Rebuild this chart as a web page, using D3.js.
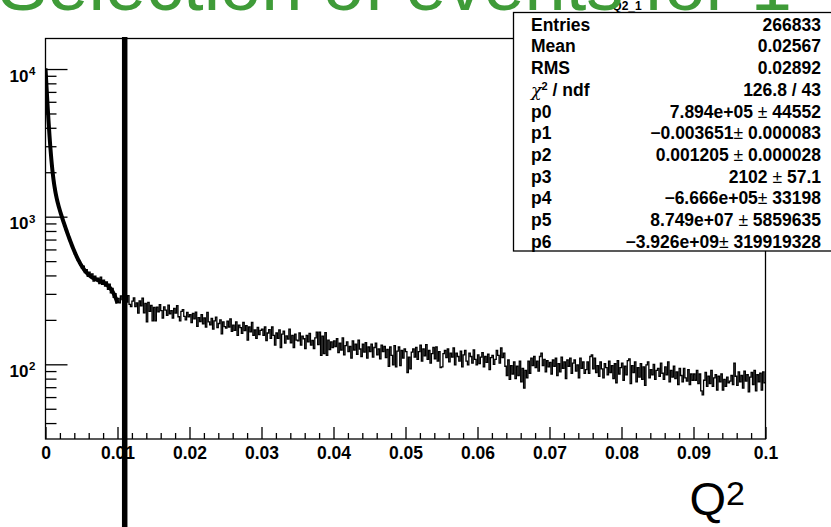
<!DOCTYPE html>
<html>
<head>
<meta charset="utf-8">
<script src="https://cdn.jsdelivr.net/npm/d3@7"></script>
<style>
  html, body { margin: 0; padding: 0; background: #fff; overflow: hidden; }
  svg { display: block; }
  text { font-family: "Liberation Sans", Arial, Helvetica, sans-serif; }
</style>
</head>
<body>
<svg id="chart" width="831" height="527"></svg>
<script>
// ---- histogram: Q2 distribution, 500 bins on [0, 0.1] ----
const q2Range = [0, 0.1];
const counts = [
  8960, 5530, 3910, 2810, 2215, 1790, 1562, 1363, 1238, 1151, 1049, 995, 917, 872, 806, 763, 709, 680, 628, 606, 561, 548, 509, 499, 468,
  447, 462, 418, 437, 394, 421, 389, 409, 366, 395, 371, 384, 352, 389, 348, 372, 339, 361, 322, 349, 305, 327, 284, 301, 262,
  280, 261, 291, 274, 246, 283, 264, 292, 255, 246, 268, 282, 246, 261, 222, 269, 249, 281, 223, 259, 194, 263, 228, 251, 197,
  243, 197, 244, 227, 254, 231, 206, 245, 233, 215, 252, 220, 231, 206, 239, 222, 250, 210, 197, 228, 235, 211, 200, 225, 210,
  217, 192, 221, 203, 226, 181, 207, 195, 217, 188, 206, 179, 225, 194, 185, 205, 173, 197, 209, 177, 189, 200, 161, 194, 180,
  176, 196, 179, 203, 167, 184, 170, 194, 157, 184, 177, 162, 192, 169, 183, 146, 179, 166, 192, 157, 171, 150, 178, 159, 170,
  173, 157, 179, 145, 163, 172, 150, 179, 157, 135, 163, 150, 171, 130, 160, 168, 139, 156, 148, 173, 140, 157, 130, 160, 146,
  144, 163, 135, 155, 149, 128, 157, 142, 162, 135, 145, 128, 151, 165, 136, 165, 115, 155, 118, 164, 115, 146, 126, 142, 130,
  144, 132, 149, 120, 139, 125, 151, 116, 134, 142, 122, 132, 110, 144, 125, 137, 117, 146, 127, 113, 137, 121, 140, 110, 131,
  122, 137, 112, 130, 139, 116, 127, 109, 135, 122, 132, 111, 126, 97, 131, 115, 99, 134, 96, 123, 131, 98, 124, 110, 127,
  122, 88, 112, 93, 121, 127, 112, 130, 108, 122, 135, 105, 127, 114, 136, 108, 124, 102, 118, 130, 109, 131, 105, 122, 95,
  96, 118, 124, 111, 127, 104, 119, 112, 129, 99, 119, 113, 105, 123, 96, 116, 124, 105, 99, 119, 113, 102, 125, 108, 99,
  116, 101, 112, 120, 96, 113, 103, 117, 92, 111, 115, 100, 108, 124, 115, 102, 129, 111, 119, 97, 84, 107, 79, 98, 86,
  104, 80, 97, 84, 105, 76, 94, 69, 91, 81, 105, 87, 110, 98, 113, 95, 105, 90, 113, 119, 98, 108, 89, 106, 96,
  103, 86, 107, 97, 110, 84, 101, 89, 112, 94, 104, 80, 107, 97, 110, 87, 102, 107, 90, 99, 81, 110, 94, 104, 87,
  92, 104, 87, 113, 116, 93, 110, 88, 98, 83, 104, 93, 81, 101, 95, 85, 105, 88, 98, 80, 101, 75, 106, 86, 95,
  102, 78, 97, 85, 106, 109, 74, 98, 88, 104, 76, 95, 82, 101, 79, 96, 72, 99, 104, 81, 92, 85, 100, 79, 91,
  94, 83, 102, 87, 79, 96, 85, 104, 76, 91, 82, 97, 80, 89, 73, 94, 84, 76, 94, 81, 77, 92, 73, 86, 78,
  86, 78, 91, 74, 86, 66, 62, 78, 88, 71, 83, 74, 91, 71, 81, 85, 67, 83, 76, 86, 67, 79, 71, 82, 75,
  77, 84, 73, 102, 83, 72, 89, 76, 84, 69, 90, 77, 85, 65, 82, 88, 73, 91, 66, 85, 76, 87, 67, 89, 75
];

// ---- axes ----
const yRange = [31.2, 16100];
const xMajorTicks = [0, 0.01, 0.02, 0.03, 0.04, 0.05, 0.06, 0.07, 0.08, 0.09, 0.1];
const xTickLabels = ["0", "0.01", "0.02", "0.03", "0.04", "0.05", "0.06", "0.07", "0.08", "0.09", "0.1"];
const yDecadeExponents = [2, 3, 4];

// ---- fit: gaus(p0,p1,p2) + pol3(p3..p6) on [0, 0.01] ----
const fitParams = [7.894e+05, -0.003651, 0.001205, 2102, -6.666e+05, 8.749e+07, -3.926e+09];
const fitRange = [0, 0.01];

// ---- selection cut ----
const cutQ2 = 0.011;

// ---- statistics box ----
const statLabels = ["Entries", "Mean", "RMS", "CHI2", "p0", "p1", "p2", "p3", "p4", "p5", "p6"];
const statValues = ["266833", "0.02567", "0.02892", "126.8 / 43",
  "7.894e+05 ", "\u22120.003651", "0.001205 ", "2102 ", "\u22126.666e+05", "8.749e+07 ", "\u22123.926e+09"];
const statErrors = ["", "", "", "", "44552", "0.000083", "0.000028", "57.1", "33198", "5859635", "319919328"];

const titleText = "Selection of events for 1";
const statTitle = "Q2_1";

// ------------------------------------------------------------------
const svg = d3.select("#chart");
const W = 831, H = 527;
const plot = { left: 45.5, right: 765.5, top: 38.5, bottom: 439 };

const x = d3.scaleLinear().domain(q2Range).range([plot.left, plot.right]);
const y = d3.scaleLog().domain(yRange).range([plot.bottom, plot.top]);

svg.append("rect").attr("width", W).attr("height", H).attr("fill", "#fff");

svg.append("clipPath").attr("id", "plotClip")
  .append("rect")
  .attr("x", plot.left).attr("y", plot.top)
  .attr("width", plot.right - plot.left).attr("height", plot.bottom - plot.top);

// histogram as a step outline
const binW = (q2Range[1] - q2Range[0]) / counts.length;
const steps = counts.map((c, i) => [q2Range[0] + i * binW, c]);
steps.push([q2Range[1], counts[counts.length - 1]]);
const stepLine = d3.line().x(d => x(d[0])).y(d => y(d[1])).curve(d3.curveStepAfter);

const plotG = svg.append("g").attr("clip-path", "url(#plotClip)");
plotG.append("path")
  .datum(steps)
  .attr("d", stepLine)
  .attr("fill", "none")
  .attr("stroke", "#000")
  .attr("stroke-width", 1.3)
  .attr("stroke-linejoin", "miter");

// fitted function
function fitFn(q) {
  const [p0, p1, p2, p3, p4, p5, p6] = fitParams;
  const z = (q - p1) / p2;
  return p0 * Math.exp(-0.5 * z * z) + p3 + p4 * q + p5 * q * q + p6 * q * q * q;
}
const fitPts = d3.range(0, 201).map(k => {
  const q = fitRange[0] + (fitRange[1] - fitRange[0]) * k / 200;
  return [q, fitFn(q)];
});
plotG.append("path")
  .datum(fitPts)
  .attr("d", d3.line().x(d => x(d[0])).y(d => y(d[1])))
  .attr("fill", "none")
  .attr("stroke", "#000")
  .attr("stroke-width", 4)
  .attr("stroke-linejoin", "round");

// frame
svg.append("rect")
  .attr("x", plot.left).attr("y", plot.top)
  .attr("width", plot.right - plot.left).attr("height", plot.bottom - plot.top)
  .attr("fill", "none").attr("stroke", "#000").attr("stroke-width", 1.3);

// x axis: major + minor ticks pointing inwards
const xMinor = d3.range(0, 51).map(k => k * 0.002).filter(v => Math.abs((v * 100) - Math.round(v * 100)) > 1e-6);
const xAxisG = svg.append("g").attr("transform", `translate(0,${plot.bottom})`);
xAxisG.call(d3.axisBottom(x).tickValues(xMinor).tickSize(-6).tickFormat(""));
const xMajG = svg.append("g").attr("transform", `translate(0,${plot.bottom})`);
xMajG.call(d3.axisBottom(x).tickValues(xMajorTicks).tickSize(-12).tickPadding(8)
  .tickFormat((d, i) => xTickLabels[i]));
[xAxisG, xMajG].forEach(g => {
  g.select(".domain").remove();
  g.selectAll(".tick line").attr("stroke", "#000").attr("stroke-width", 1.3);
});
xMajG.selectAll(".tick text")
  .attr("fill", "#000")
  .style("font-size", "17.5px").style("font-weight", "bold");

// y axis: decades + 2..9 minor ticks
const yMinor = [];
for (let e = 1; e <= 4; e++) {
  for (let m = 2; m <= 9; m++) {
    const v = m * Math.pow(10, e);
    if (v >= yRange[0] && v <= yRange[1]) yMinor.push(v);
  }
}
const yDecades = yDecadeExponents.map(e => Math.pow(10, e));
const yMinG = svg.append("g").attr("transform", `translate(${plot.left},0)`);
yMinG.call(d3.axisLeft(y).tickValues(yMinor).tickSize(-11).tickFormat(""));
const yMajG = svg.append("g").attr("transform", `translate(${plot.left},0)`);
yMajG.call(d3.axisLeft(y).tickValues(yDecades).tickSize(-22).tickFormat(""));
[yMinG, yMajG].forEach(g => {
  g.select(".domain").remove();
  g.selectAll(".tick line").attr("stroke", "#000").attr("stroke-width", 1.3);
});

// decade labels 10^n
yDecadeExponents.forEach(e => {
  const ty = y(Math.pow(10, e));
  svg.append("text")
    .attr("x", 28.5).attr("y", ty + 12.5)
    .attr("text-anchor", "end")
    .style("font-size", "17px").style("font-weight", "bold")
    .text("10");
  svg.append("text")
    .attr("x", 29).attr("y", ty + 6)
    .style("font-size", "11.5px").style("font-weight", "bold")
    .text(String(e));
});

// x axis title Q^2
const xt = svg.append("text")
  .attr("x", 745).attr("y", 515)
  .attr("text-anchor", "end")
  .style("font-size", "47px");
xt.append("tspan").text("Q");
xt.append("tspan").attr("dy", -10).style("font-size", "34px").text("2");

// selection cut line
svg.append("line")
  .attr("x1", x(cutQ2)).attr("x2", x(cutQ2))
  .attr("y1", y(yRange[1]) - 1.5).attr("y2", H + 5)
  .attr("stroke", "#000").attr("stroke-width", 5.5);

// statistics box
const box = { x: 513.5, y: 12.5, w: 340, bottom: 251 };
svg.append("rect")
  .attr("x", box.x).attr("y", box.y)
  .attr("width", box.w).attr("height", box.bottom - box.y)
  .attr("fill", "#fff").attr("stroke", "#000").attr("stroke-width", 1.3);

svg.append("text")
  .attr("x", 627).attr("y", 9.5)
  .attr("text-anchor", "middle")
  .style("font-size", "12px").style("font-weight", "bold")
  .text(statTitle);

const rowY0 = 30.7, rowDy = 21.7;
statLabels.forEach((lab, i) => {
  const ry = rowY0 + i * rowDy;
  const lt = svg.append("text")
    .attr("x", 531).attr("y", ry)
    .style("font-size", "17.5px").style("font-weight", "bold");
  if (lab === "CHI2") {
    lt.append("tspan").style("font-weight", "normal").style("font-family", "'DejaVu Serif', serif")
      .style("font-style", "italic").text("\u03c7");
    lt.append("tspan").attr("dy", -6).style("font-size", "11px").text("2");
    lt.append("tspan").attr("dy", 6).text(" / ndf");
  } else {
    lt.text(lab);
  }
  const vt = svg.append("text")
    .attr("x", 821).attr("y", ry)
    .attr("text-anchor", "end")
    .style("font-size", "17.5px").style("font-weight", "bold");
  vt.append("tspan").text(statValues[i]);
  if (statErrors[i]) {
    vt.append("tspan").style("font-weight", "normal").text("\u00b1");
    vt.append("tspan").text(" " + statErrors[i]);
  }
});

// page title (green, runs off the top edge)
svg.append("text")
  .attr("x", -2).attr("y", 10)
  .attr("fill", "#3f9b38")
  .style("font-size", "74px")
  .text(titleText);
</script>
</body>
</html>
